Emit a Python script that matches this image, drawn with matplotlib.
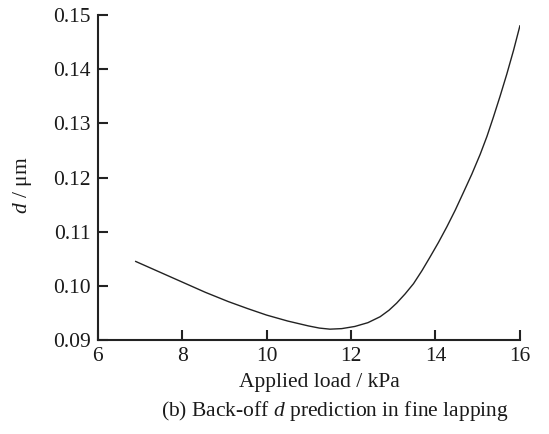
import matplotlib
matplotlib.use("Agg")
import matplotlib.pyplot as plt

plt.rcParams['font.family'] = ['Liberation Serif', 'DejaVu Serif']
plt.rcParams['mathtext.fontset'] = 'custom'
plt.rcParams['mathtext.rm'] = 'Liberation Serif'
plt.rcParams['mathtext.it'] = 'Liberation Serif:italic'

load_kpa = [6.90, 7.45, 8.00, 8.55, 9.09, 9.55, 10.00, 10.50, 10.99, 11.25,
            11.50, 11.78, 12.09, 12.40, 12.69, 12.90, 13.08, 13.28, 13.48, 13.68,
            13.87, 14.07, 14.27, 14.47, 14.66, 14.86, 15.06, 15.22, 15.37, 15.53,
            15.69, 15.85, 16.00]
d_um = [0.1045, 0.1026, 0.1007, 0.0988, 0.0971, 0.0958, 0.0946, 0.0935, 0.0926, 0.0922,
        0.0920, 0.0921, 0.0925, 0.0932, 0.0943, 0.0955, 0.0968, 0.0985, 0.1004, 0.1028,
        0.1053, 0.1080, 0.1109, 0.1140, 0.1172, 0.1206, 0.1243, 0.1276, 0.1311, 0.1350,
        0.1391, 0.1435, 0.1480]

x_ticks = [6, 8, 10, 12, 14, 16]
y_ticks = [0.09, 0.10, 0.11, 0.12, 0.13, 0.14, 0.15]

fig = plt.figure(figsize=(5.49, 4.34), dpi=100)
ax = fig.add_axes([0.178, 0.2166, 0.769, 0.7488])
ax.plot(load_kpa, d_um, color='#222222', lw=1.0, solid_joinstyle='round')
ax.set_xlim(6, 16)
ax.set_ylim(0.09, 0.15)
ax.set_xticks(x_ticks)
ax.set_xticklabels([str(v) for v in x_ticks])
ax.set_yticks(y_ticks)
ax.set_yticklabels([f"{v:.2f}" for v in y_ticks])
for s in ['top', 'right']:
    ax.spines[s].set_visible(False)
for s in ['left', 'bottom']:
    ax.spines[s].set_linewidth(1.5)
    ax.spines[s].set_color('#222222')
ax.tick_params(direction='in', length=7, width=1.5, color='#222222',
               labelsize=15.5, labelcolor='#1a1a1a', pad=5)

fig.text(319 / 549, 1 - 383 / 434, 'Applied load / kPa', ha='center', va='center',
         fontsize=15.5, color='#1a1a1a')
fig.text(22 / 549, 1 - 185 / 434, '$d$ / μm', ha='center', va='center',
         rotation=90, fontsize=15.5, color='#1a1a1a')
fig.text(335 / 549, 1 - 411 / 434, '(b) Back-off $d$ prediction in fine lapping',
         ha='center', va='center', fontsize=15.5, color='#1a1a1a')

fig.savefig('out.png', dpi=100)
